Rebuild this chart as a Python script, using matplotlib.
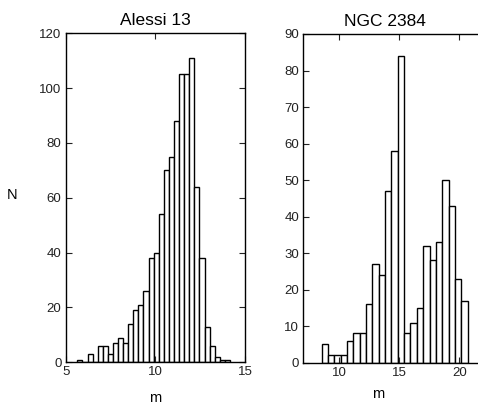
import numpy as np
import matplotlib
matplotlib.use("Agg")
import matplotlib.pyplot as plt

plt.rcParams['font.family'] = ['Liberation Sans', 'DejaVu Sans']

# 直方图数据
alessi_counts = [1, 0, 3, 0, 6, 6, 3, 7, 9, 7, 14, 19, 21, 26, 38, 40, 54, 70,
                 75, 88, 105, 105, 111, 64, 38, 13, 6, 2, 1, 1]
alessi_range = (5.65, 14.16)

ngc_counts = [5, 2, 2, 2, 6, 8, 8, 16, 27, 24, 47, 58, 84, 8, 11, 15, 32, 28,
              33, 50, 43, 23, 17]
ngc_range = (8.53, 20.69)

W, H = 478, 405
fig = plt.figure(figsize=(W / 100, H / 100), dpi=100)


def draw_hist(ax, counts, rng):
    edges = np.linspace(rng[0], rng[1], len(counts) + 1)
    ax.bar(edges[:-1], counts, width=np.diff(edges), align='edge',
           facecolor='white', edgecolor='black', linewidth=1.0)
    ax.tick_params(direction='in', length=4, top=True, right=True,
                   labelsize=9.5, colors='#222222', pad=3)
    for s in ax.spines.values():
        s.set_linewidth(1.0)
    ax.set_xlabel('m', fontsize=10.5, labelpad=9)


ax1 = fig.add_axes([65.7 / W, 1 - 362.3 / H, (245 - 65.7) / W, (362.3 - 33.3) / H])
draw_hist(ax1, alessi_counts, alessi_range)
ax1.set_xlim(5, 15)
ax1.set_ylim(0, 120)
ax1.set_xticks([5, 10, 15])
ax1.set_yticks(range(0, 121, 20))
ax1.set_title('Alessi 13', fontsize=12.5, pad=6)

ax2 = fig.add_axes([303.3 / W, 1 - 362.7 / H, (483.3 - 303.3) / W, (362.7 - 34) / H])
draw_hist(ax2, ngc_counts, ngc_range)
ax2.tick_params(right=False)
ax2.set_xlim(7, 22)
ax2.set_ylim(0, 90)
ax2.set_xticks([10, 15, 20])
ax2.set_yticks(range(0, 91, 10))
ax2.set_title('NGC 2384', fontsize=12.5, pad=6, x=(385 - 303.3) / (483.3 - 303.3))
ax2.xaxis.set_label_coords((378 - 303.3) / (483.3 - 303.3), -0.075)

fig.text(12 / W, 1 - 195 / H, 'N', fontsize=10.5, ha='center', va='center')

fig.savefig('out.png', dpi=100)
